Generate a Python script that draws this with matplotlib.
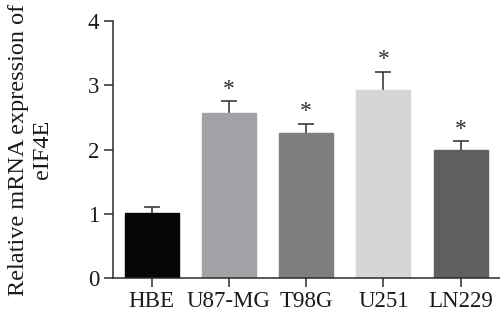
import numpy as np
import matplotlib.pyplot as plt

plt.rcParams['font.family'] = ['Liberation Serif', 'DejaVu Serif']

cells = ["HBE", "U87-MG", "T98G", "U251", "LN229"]
expr = [1.02, 2.57, 2.25, 2.92, 1.99]
sd = [0.08, 0.18, 0.15, 0.29, 0.14]
signif = ["", "*", "*", "*", "*"]
colors = ["#050608", "#a2a2a6", "#7d7f7e", "#d5d6d6", "#5f5f5f"]

fig = plt.figure(figsize=(5, 3.23), dpi=100)
ax = fig.add_axes([0.226, 0.139, 0.774, 0.796])

x = np.arange(len(cells))
ink = "#2b2b2b"

# error bars sit behind the bars so only the upper half shows
ax.errorbar(x, expr, yerr=sd, fmt="none", ecolor=ink, elinewidth=1.1,
            capsize=6, capthick=1.1, zorder=1)
ax.bar(x, expr, width=0.7, color=colors, edgecolor=colors, zorder=2)

for xi, v, e, s in zip(x, expr, sd, signif):
    if s:
        ax.annotate(s, (xi, v + e), xytext=(0, 1), textcoords="offset points",
                    ha="center", va="bottom", fontsize=17, color=ink)

ax.set_xlim(-0.5, 4.51)
ax.set_ylim(0, 4)
ax.set_yticks([0, 1, 2, 3, 4])
ax.set_xticks(x)
ax.set_xticklabels(cells)

for side in ["top", "right"]:
    ax.spines[side].set_visible(False)
for side in ["left", "bottom"]:
    ax.spines[side].set_linewidth(1.1)
    ax.spines[side].set_color(ink)

ax.tick_params(axis="both", colors=ink, width=1.1, length=6.5, labelsize=16.5,
               labelcolor="#1a1a1a")
ax.tick_params(axis="x", labelsize=16.5, pad=3)
ax.set_ylabel("Relative mRNA expression of\neIF4E", fontsize=17.5,
              color="#1a1a1a", linespacing=1.18, labelpad=25)

fig.savefig("out.png", dpi=100)
